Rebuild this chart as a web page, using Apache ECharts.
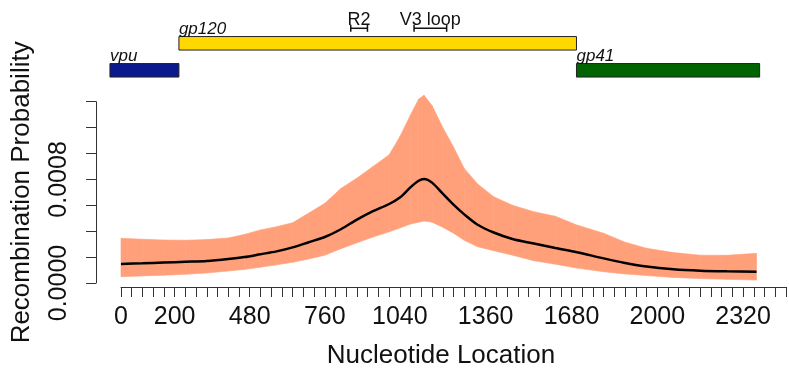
<!DOCTYPE html>
<html>
<head>
<meta charset="utf-8">
<script src="https://cdn.jsdelivr.net/npm/echarts@6/dist/echarts.min.js"></script>
<style>
html,body{margin:0;padding:0;background:#fff;}
#chart{width:789px;height:369px;}
</style>
</head>
<body>
<div id="chart"></div>
<script>
// ---- data ----
var positions = [0, 80, 160, 240, 320, 400, 460, 520, 580, 640, 700, 760, 820, 880, 940, 1000, 1040, 1080, 1110, 1130, 1160, 1200, 1240, 1280, 1330, 1390, 1460, 1540, 1620, 1700, 1800, 1880, 1960, 2060, 2160, 2260, 2370];
var upperCI = [0.000345, 0.000338, 0.000332, 0.000330, 0.000335, 0.000348, 0.000375, 0.000410, 0.000435, 0.000465, 0.000540, 0.000615, 0.000730, 0.000810, 0.000900, 0.000990, 0.001130, 0.001300, 0.001420, 0.001450, 0.001370, 0.001200, 0.001050, 0.000885, 0.000765, 0.000666, 0.000600, 0.000550, 0.000515, 0.000448, 0.000384, 0.000315, 0.000268, 0.000235, 0.000215, 0.000214, 0.000229];
var meanProb = [0.000147, 0.000152, 0.000158, 0.000164, 0.000170, 0.000185, 0.000200, 0.000222, 0.000244, 0.000275, 0.000315, 0.000355, 0.000415, 0.000490, 0.000555, 0.000610, 0.000660, 0.000740, 0.000790, 0.000803, 0.000775, 0.000690, 0.000605, 0.000530, 0.000450, 0.000390, 0.000340, 0.000305, 0.000270, 0.000238, 0.000190, 0.000155, 0.000127, 0.000106, 0.000095, 0.000090, 0.000087];
var lowerCI = [0.000049, 0.000055, 0.000060, 0.000067, 0.000077, 0.000093, 0.000105, 0.000122, 0.000140, 0.000160, 0.000185, 0.000215, 0.000265, 0.000310, 0.000355, 0.000395, 0.000425, 0.000455, 0.000470, 0.000479, 0.000470, 0.000430, 0.000385, 0.000330, 0.000280, 0.000250, 0.000215, 0.000172, 0.000145, 0.000115, 0.000087, 0.000070, 0.000057, 0.000043, 0.000034, 0.000028, 0.000023];

var xTickLabels = [0, 200, 480, 760, 1040, 1360, 1680, 2000, 2320];
var yTickLabels = ['0.0000', '0.0008'];

var geneNames = ['vpu', 'gp120', 'gp41'];
var geneStart = [-41, 215, 1691];
var geneEnd = [215, 1691, 2371];
var geneRow = [0, 1, 0];
var geneColors = ['#0A1A8C', '#FFD800', '#006400'];

var regionNames = ['R2', 'V3 loop'];
var regionStart = [853, 1088];
var regionEnd = [915, 1209];

// ---- build ----
var FONT = 'Liberation Sans, Arial, Helvetica, sans-serif';
var BAND = '#FFA07A';
var bandData = [];
for (var k = 0; k < positions.length - 1; k++) {
  bandData.push([positions[k], positions[k + 1], lowerCI[k], upperCI[k], lowerCI[k + 1], upperCI[k + 1]]);
}
var meanData = positions.map(function (x, i) { return [x, meanProb[i]]; });
var geneData = geneNames.map(function (n, i) { return [geneStart[i], geneEnd[i], geneRow[i]]; });
var regionData = regionNames.map(function (n, i) { return [regionStart[i], regionEnd[i], 1]; });

function renderBand(params, api) {
  var x0 = api.value(0), x1 = api.value(1);
  var a = api.coord([x0, api.value(2)]);
  var b = api.coord([x0, api.value(3)]);
  var c = api.coord([x1, api.value(5)]);
  var d = api.coord([x1, api.value(4)]);
  return {
    type: 'polygon',
    shape: { points: [a, b, c, d] },
    style: { fill: BAND, stroke: BAND, lineWidth: 0.6 }
  };
}

function renderGene(params, api) {
  var i = params.dataIndex;
  var s = api.coord([api.value(0), api.value(2)]);
  var e = api.coord([api.value(1), api.value(2)]);
  var h = api.size([0, 0.5])[1];
  var top = s[1] - h / 2;
  return {
    type: 'group',
    children: [
      { type: 'rect', shape: { x: s[0], y: top, width: e[0] - s[0], height: h },
        style: { fill: geneColors[i], stroke: '#222', lineWidth: 1 } },
      { type: 'text', x: s[0], y: top + 1,
        style: { text: geneNames[i], fontStyle: 'italic', fontSize: 17, fontFamily: FONT,
                 fill: '#111', align: 'left', verticalAlign: 'bottom' } }
    ]
  };
}

function renderRegion(params, api) {
  var i = params.dataIndex;
  var s = api.coord([api.value(0), api.value(2)]);
  var e = api.coord([api.value(1), api.value(2)]);
  var y = s[1] - 15;
  var cap = 3.5;
  var st = { stroke: '#111', lineWidth: 1.5 };
  return {
    type: 'group',
    children: [
      { type: 'line', shape: { x1: s[0], y1: y, x2: e[0], y2: y }, style: st },
      { type: 'line', shape: { x1: s[0], y1: y - cap, x2: s[0], y2: y + cap }, style: st },
      { type: 'line', shape: { x1: e[0], y1: y - cap, x2: e[0], y2: y + cap }, style: st },
      { type: 'text', x: (s[0] + e[0]) / 2, y: y + 1,
        style: { text: regionNames[i], fontSize: 18, fontFamily: FONT, fill: '#111',
                 align: 'center', verticalAlign: 'bottom' } }
    ]
  };
}

var chart = echarts.init(document.getElementById('chart'), null, { renderer: 'canvas' });
chart.setOption({
  animation: false,
  backgroundColor: '#ffffff',
  grid: [
    { left: 121, right: -2.3, top: 101.7, bottom: 86, containLabel: false },
    { left: 121, right: -2.3, top: 16.3, height: 54 }
  ],
  xAxis: [
    {
      type: 'value', gridIndex: 0, min: 0, max: 2480, interval: 40,
      position: 'bottom', offset: 4,
      splitLine: { show: false },
      axisLine: { show: true, onZero: false, lineStyle: { color: '#333', width: 1 } },
      axisTick: { show: true, length: 10, inside: false, lineStyle: { color: '#333', width: 1 } },
      axisLabel: {
        show: true, margin: 18, fontSize: 25, fontFamily: FONT, color: '#111',
        formatter: function (v) { return xTickLabels.indexOf(Math.round(v)) >= 0 ? String(Math.round(v)) : ''; }
      }
    },
    {
      type: 'value', gridIndex: 1, min: 0, max: 2480, show: false
    }
  ],
  yAxis: [
    {
      type: 'value', gridIndex: 0, min: 0, max: 0.0014, interval: 0.0002,
      position: 'left', offset: 25,
      splitLine: { show: false },
      axisLine: { show: true, onZero: false, lineStyle: { color: '#333', width: 1 } },
      axisTick: { show: true, length: 10, lineStyle: { color: '#333', width: 1 } },
      axisLabel: {
        show: true, rotate: 90, margin: 24, fontSize: 25, fontFamily: FONT, color: '#111',
        formatter: function (v) {
          var s = v.toFixed(4);
          return yTickLabels.indexOf(s) >= 0 ? s : '';
        }
      },
      name: 'Recombination Probability', nameLocation: 'middle', nameRotate: 90, nameGap: 61,
      nameTextStyle: { fontSize: 26, fontFamily: FONT, color: '#111' }
    },
    {
      type: 'value', gridIndex: 1, min: 0, max: 2, show: false
    }
  ],
  graphic: [
    { type: 'text', x: 441, y: 356,
      style: { text: 'Nucleotide Location', fontSize: 26, fontFamily: FONT, fill: '#111',
               align: 'center', verticalAlign: 'middle' } }
  ],
  series: [
    {
      type: 'custom', name: 'band', xAxisIndex: 0, yAxisIndex: 0, data: bandData,
      encode: { x: [0, 1], y: [2, 3] }, renderItem: renderBand, clip: false, silent: true, z: 2
    },
    {
      type: 'line', name: 'mean', xAxisIndex: 0, yAxisIndex: 0, data: meanData,
      symbol: 'none', smooth: 0.3, lineStyle: { color: '#000', width: 2.5 }, clip: false, z: 5
    },
    {
      type: 'custom', name: 'genes', xAxisIndex: 1, yAxisIndex: 1, data: geneData,
      encode: { x: [0, 1], y: 2 }, renderItem: renderGene, clip: false
    },
    {
      type: 'custom', name: 'regions', xAxisIndex: 1, yAxisIndex: 1, data: regionData,
      encode: { x: [0, 1], y: 2 }, renderItem: renderRegion, clip: false
    }
  ]
});
</script>
</body>
</html>
